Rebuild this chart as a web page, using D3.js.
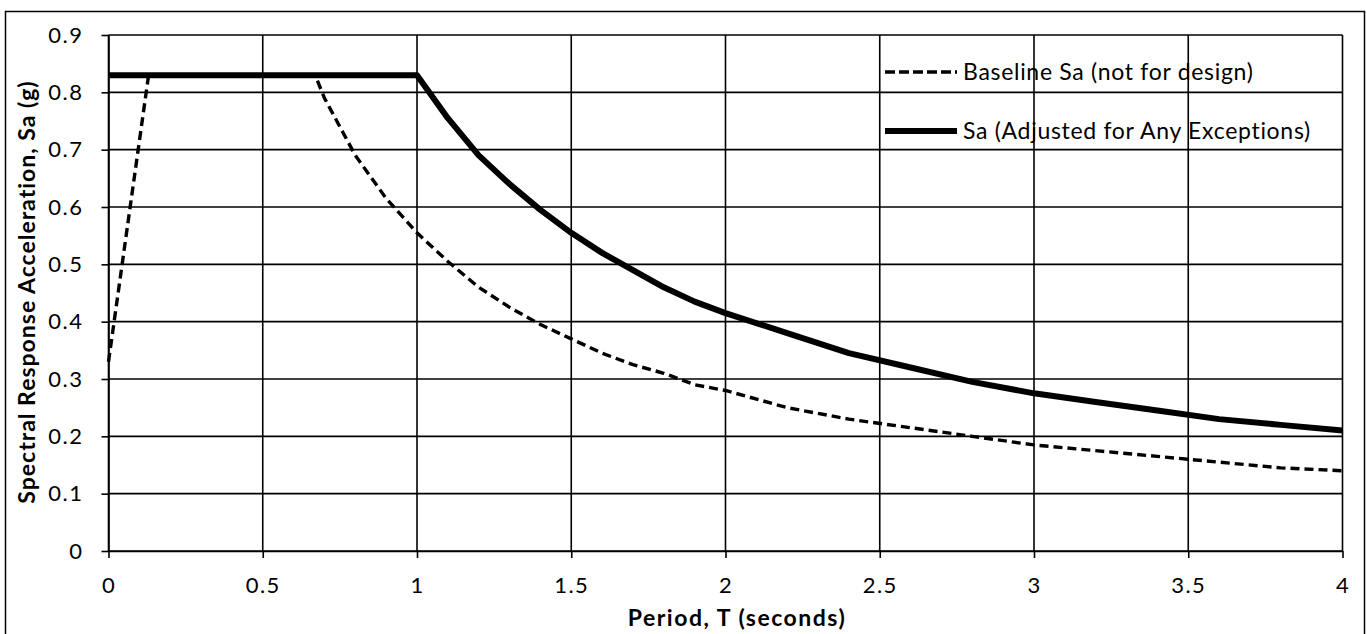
<!DOCTYPE html>
<html><head><meta charset="utf-8">
<script src="https://cdn.jsdelivr.net/npm/d3@7"></script>
<style>
html,body{margin:0;padding:0;background:#fff;}
svg text{font-family:Lato,"Open Sans",sans-serif;fill:#000;}
</style></head>
<body><svg id="c" width="1367" height="634"></svg>
<script>
// Data
const baselineT  = [0, 0.13, 0.67, 0.7, 0.8, 0.9, 1.0, 1.1, 1.2, 1.3, 1.4, 1.5, 1.6, 1.7, 1.8, 1.9, 2.0, 2.2, 2.4, 2.6, 2.8, 3.0, 3.2, 3.4, 3.6, 3.8, 4.0];
const baselineSa = [0.33, 0.83, 0.83, 0.79, 0.69, 0.615, 0.555, 0.505, 0.46, 0.425, 0.395, 0.37, 0.345, 0.325, 0.31, 0.29, 0.28, 0.25, 0.23, 0.215, 0.2, 0.185, 0.175, 0.165, 0.155, 0.145, 0.14];
const adjustedT  = [0, 1.0, 1.1, 1.2, 1.3, 1.4, 1.5, 1.6, 1.7, 1.8, 1.9, 2.0, 2.2, 2.4, 2.6, 2.8, 3.0, 3.2, 3.4, 3.6, 3.8, 4.0];
const adjustedSa = [0.83, 0.83, 0.755, 0.69, 0.64, 0.595, 0.555, 0.52, 0.49, 0.46, 0.435, 0.415, 0.38, 0.345, 0.32, 0.295, 0.275, 0.26, 0.245, 0.23, 0.22, 0.21];
const xTicks = [0, 0.5, 1, 1.5, 2, 2.5, 3, 3.5, 4];
const yTicks = [0, 0.1, 0.2, 0.3, 0.4, 0.5, 0.6, 0.7, 0.8, 0.9];
const seriesNames = ["Baseline Sa (not for design)", "Sa (Adjusted for Any Exceptions)"];
const xTitle = "Period, T (seconds)";
const yTitle = "Spectral Response Acceleration, Sa (g)";

const svg = d3.select("#c");
const L = 108.5, R = 1342.5, T = 35, B = 551;
const x = d3.scaleLinear().domain([0, 4]).range([L, R]);
const y = d3.scaleLinear().domain([0, 0.9]).range([B, T]);

// outer frame
svg.append("rect").attr("x", 5.5).attr("y", 11.5).attr("width", 1359).attr("height", 640)
  .attr("fill", "none").attr("stroke", "#000").attr("stroke-width", 1.5);

// gridlines
const g = svg.append("g");
g.selectAll("line.h").data(yTicks).join("line")
  .attr("x1", L).attr("x2", R).attr("y1", d => y(d)).attr("y2", d => y(d))
  .attr("stroke", "#000").attr("stroke-width", 1.6);
g.selectAll("line.v").data(xTicks).join("line")
  .attr("y1", T).attr("y2", B).attr("x1", d => x(d)).attr("x2", d => x(d))
  .attr("stroke", "#000").attr("stroke-width", 1.6);

// axes
const ax = svg.append("g").attr("transform", `translate(0,${B})`)
  .call(d3.axisBottom(x).tickValues(xTicks).tickFormat(d3.format("")).tickSize(7).tickSizeOuter(0).tickPadding(19));
const ay = svg.append("g").attr("transform", `translate(${L},0)`)
  .call(d3.axisLeft(y).tickValues(yTicks).tickFormat(d => d === 0 ? "0" : d3.format(".1f")(d)).tickSize(7).tickSizeOuter(0).tickPadding(18));
[ax, ay].forEach(a => {
  a.selectAll("path.domain").attr("stroke", "#000").attr("stroke-width", 1.6);
  a.selectAll(".tick line").attr("stroke", "#000").attr("stroke-width", 1.6);
  a.selectAll("text").style("font-family", "Lato, 'Open Sans', sans-serif").style("font-size", "22px")
    .style("letter-spacing", "1.5px").attr("fill", "#000");
});

// lines
const line = d3.line().x(d => x(d[0])).y(d => y(d[1]));
const baseData = baselineT.map((t, i) => [t, baselineSa[i]]);
const adjData = adjustedT.map((t, i) => [t, adjustedSa[i]]);
svg.append("path").datum(baseData).attr("d", line).attr("fill", "none")
  .attr("stroke", "#000").attr("stroke-width", 3.4).attr("stroke-dasharray", "9,5");
svg.append("path").datum(adjData).attr("d", line).attr("fill", "none")
  .attr("stroke", "#000").attr("stroke-width", 6).attr("stroke-linejoin", "round");

// legend
const leg = [
  {name: seriesNames[0], y: 72, w: 3.4, dash: "10,4"},
  {name: seriesNames[1], y: 131, w: 6, dash: null}
];
leg.forEach(l => {
  svg.append("line").attr("x1", 885).attr("x2", 957).attr("y1", l.y).attr("y2", l.y)
    .attr("stroke", "#000").attr("stroke-width", l.w).attr("stroke-dasharray", l.dash);
  svg.append("text").attr("x", 963).attr("y", l.y).attr("dy", "0.35em")
    .style("font-size", "23px").style("letter-spacing", "0.7px").text(l.name);
});

// titles
svg.append("text").attr("x", 737).attr("y", 618).attr("dy", "0.35em").attr("text-anchor", "middle")
  .style("font-size", "23px").style("font-weight", "bold").style("letter-spacing", "1.5px").text(xTitle);
svg.append("text").attr("transform", "translate(27,292) rotate(-90)").attr("dy", "0.35em").attr("text-anchor", "middle")
  .style("font-size", "23px").style("font-weight", "bold").style("letter-spacing", "1px").text(yTitle);
</script></body></html>
